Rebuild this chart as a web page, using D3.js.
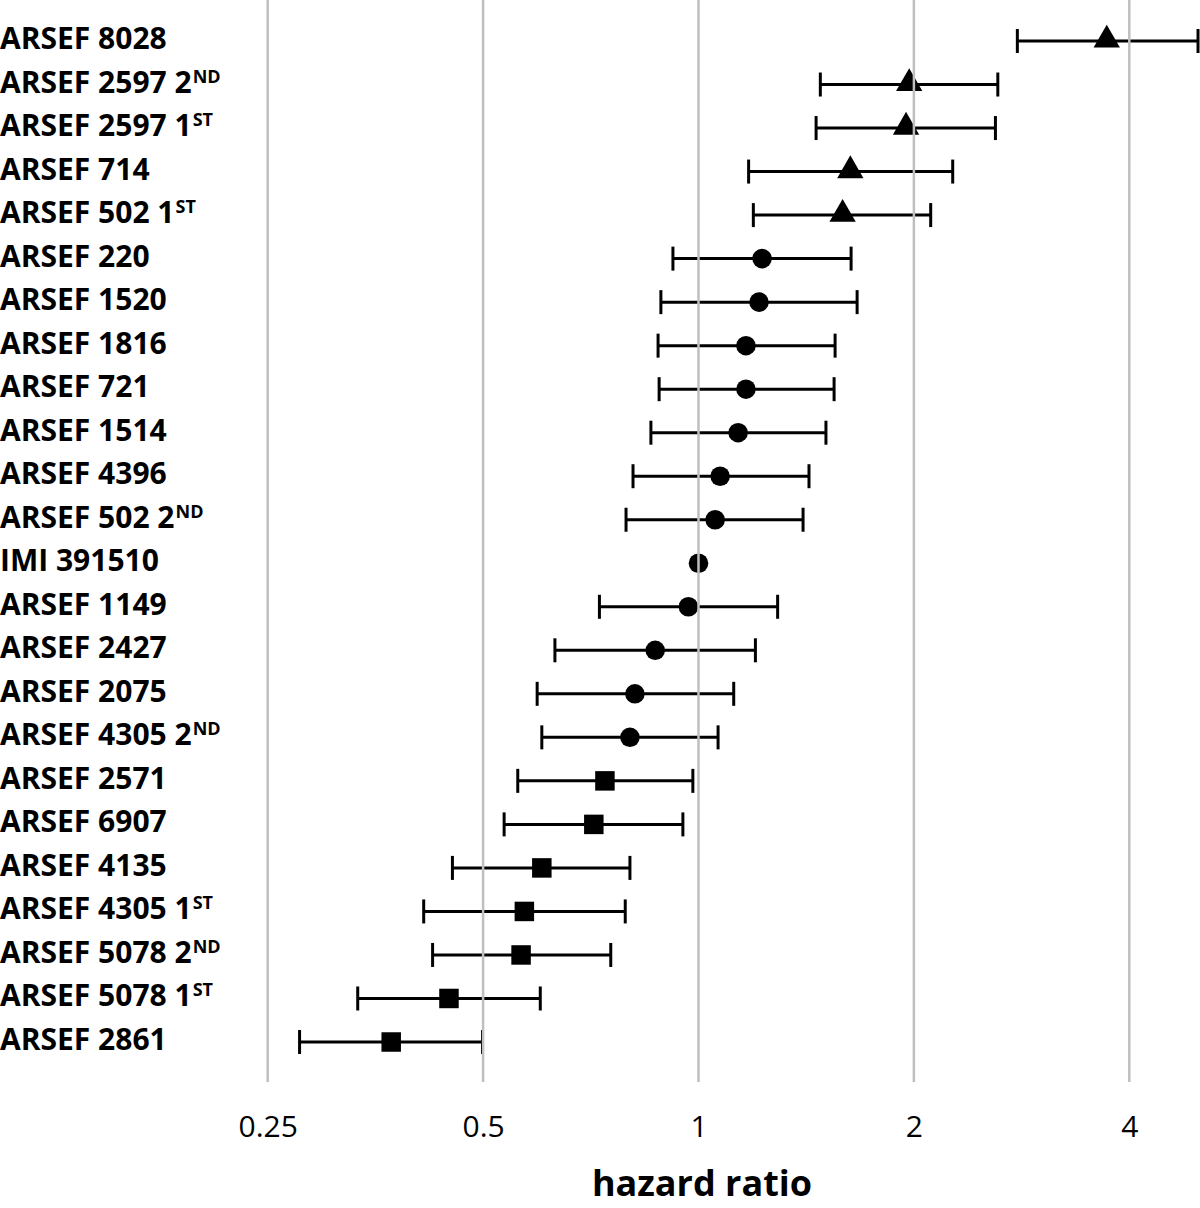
<!DOCTYPE html>
<html>
<head>
<meta charset="utf-8">
<script src="https://cdn.jsdelivr.net/npm/d3@7"></script>
<style>
  html, body { margin: 0; padding: 0; background: #fff; }
  svg { display: block; }
</style>
</head>
<body>
<svg id="chart" width="1200" height="1208"></svg>
<script>
// ---- data ----
const strains = ["ARSEF 8028","ARSEF 2597 2","ARSEF 2597 1","ARSEF 714","ARSEF 502 1",
  "ARSEF 220","ARSEF 1520","ARSEF 1816","ARSEF 721","ARSEF 1514","ARSEF 4396",
  "ARSEF 502 2","IMI 391510","ARSEF 1149","ARSEF 2427","ARSEF 2075","ARSEF 4305 2",
  "ARSEF 2571","ARSEF 6907","ARSEF 4135","ARSEF 4305 1","ARSEF 5078 2","ARSEF 5078 1","ARSEF 2861"];
const ordinals = ["","ND","ST","","ST","","","","","","","ND","","","","","ND","","","","ST","ND","ST",""];
const hazard = [3.72,1.97,1.95,1.63,1.59,1.227,1.215,1.165,1.165,1.136,1.072,1.055,1.0,0.968,0.870,0.815,0.802,0.740,0.714,0.604,0.571,0.565,0.448,0.372];
const lower  = [2.79,1.48,1.46,1.175,1.193,0.921,0.886,0.878,0.881,0.858,0.810,0.792,null,0.727,0.630,0.595,0.604,0.559,0.535,0.453,0.413,0.425,0.334,0.277];
const upper  = [4.99,2.62,2.60,2.266,2.111,1.634,1.666,1.552,1.547,1.507,1.427,1.400,null,1.290,1.201,1.120,1.065,0.982,0.951,0.802,0.790,0.754,0.601,0.499];
const marker = ["triangle","triangle","triangle","triangle","triangle",
  "circle","circle","circle","circle","circle","circle","circle","circle","circle","circle","circle","circle",
  "square","square","square","square","square","square","square"];
const tickValues = [0.25, 0.5, 1, 2, 4];
const tickLabels = ["0.25", "0.5", "1", "2", "4"];
const axisTitle = "hazard ratio";

// ---- scales ----
const svg = d3.select("#chart");
const x = d3.scaleLog().base(2).domain([0.25, 4]).range([267.7, 1129.3]);
const y = d3.scalePoint().domain(d3.range(strains.length)).range([41, 1042]);

const rows = strains.map((s, i) => ({i, s, o: ordinals[i], hr: hazard[i], lo: lower[i], hi: upper[i], m: marker[i]}));

// ---- row labels ----
const labels = svg.append("g").attr("font-family", "'Open Sans', sans-serif").attr("font-weight", 700)
  .attr("font-size", 30).attr("fill", "#000");
rows.forEach(r => {
  const t = labels.append("text").attr("x", 0).attr("y", y(r.i) + 8);
  t.append("tspan").text(r.s);
  if (r.o) t.append("tspan").attr("font-size", 18).attr("dy", -10).attr("dx", 1).text(r.o);
});

// ---- error bars ----
const eb = svg.append("g").attr("stroke", "#000").attr("stroke-width", 3).attr("fill", "none");
rows.filter(r => r.lo != null).forEach(r => {
  const yy = y(r.i);
  eb.append("line").attr("x1", x(r.lo)).attr("x2", x(r.hi)).attr("y1", yy).attr("y2", yy);
  eb.append("line").attr("x1", x(r.lo)).attr("x2", x(r.lo)).attr("y1", yy - 12).attr("y2", yy + 12);
  eb.append("line").attr("x1", x(r.hi)).attr("x2", x(r.hi)).attr("y1", yy - 12).attr("y2", yy + 12);
});

// ---- markers ----
const sym = {
  triangle: d3.symbol().type(d3.symbolTriangle).size(300),
  circle: d3.symbol().type(d3.symbolCircle).size(300),
  square: d3.symbol().type(d3.symbolSquare).size(380)
};
svg.append("g").selectAll("path").data(rows).join("path")
  .attr("d", d => sym[d.m]())
  .attr("transform", d => `translate(${x(d.hr)},${y(d.i) + (d.m === "triangle" ? -1 : 0)})`)
  .attr("fill", "#000");

// ---- grid (drawn on top, as in the reference) ----
svg.append("g").selectAll("line").data(tickValues).join("line")
  .attr("x1", d => x(d)).attr("x2", d => x(d))
  .attr("y1", 0).attr("y2", 1082)
  .attr("stroke", "#bfbfbf").attr("stroke-width", 2.5);

// ---- axis ----
const axis = d3.axisBottom(x).tickValues(tickValues).tickFormat((d, i) => tickLabels[i]).tickSize(0).tickPadding(0);
const ag = svg.append("g").attr("transform", "translate(0,1116)").call(axis);
ag.select(".domain").remove();
ag.selectAll("text").attr("font-family", "'Open Sans', sans-serif").attr("font-size", 30)
  .attr("fill", "#000").attr("dy", "0.71em").attr("y", 0);

svg.append("text").attr("x", 702).attr("y", 1196).attr("text-anchor", "middle")
  .attr("font-family", "'Open Sans', sans-serif").attr("font-weight", 700).attr("font-size", 36)
  .attr("fill", "#000").text(axisTitle);
</script>
</body>
</html>
